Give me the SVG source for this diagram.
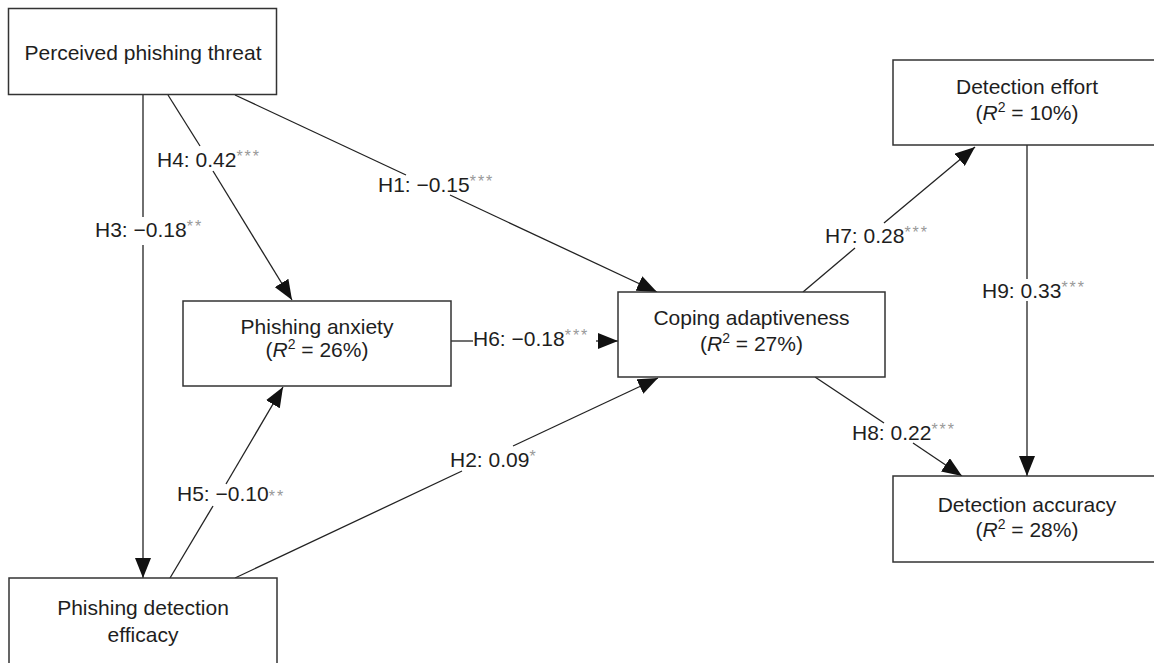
<svg xmlns="http://www.w3.org/2000/svg" width="1154" height="663" viewBox="0 0 1154 663">
<style>
text{font-family:"Liberation Sans",Arial,Helvetica,sans-serif;font-size:21px;fill:#1e1e1e}
.node rect{fill:#fff;stroke:#333;stroke-width:1.5}
.conn line{stroke:#222;stroke-width:1.3}
.sig{font-size:16px;fill:#999;letter-spacing:2px}
.sup{font-size:14px}
</style>
<defs>
<marker id="ah" viewBox="0 0 20 16" markerWidth="20" markerHeight="16" refX="20" refY="8" orient="auto" markerUnits="userSpaceOnUse">
<path d="M0,0 L20,8 L0,16 z" fill="#111"/>
</marker>
</defs>
<rect width="1154" height="663" fill="#fff"/>
<g id="connectors" class="conn">
<line x1="143" y1="95" x2="143" y2="217"/>
<line x1="143" y1="245" x2="143" y2="578" marker-end="url(#ah)"/>
<line x1="168" y1="95" x2="200" y2="146"/>
<line x1="213" y1="171" x2="292" y2="300" marker-end="url(#ah)"/>
<line x1="235" y1="95" x2="406" y2="175"/>
<line x1="450" y1="195" x2="657" y2="292" marker-end="url(#ah)"/>
<line x1="235" y1="578" x2="462" y2="471"/>
<line x1="513" y1="446" x2="658" y2="378" marker-end="url(#ah)"/>
<line x1="170" y1="578" x2="213" y2="506"/>
<line x1="226" y1="484" x2="283" y2="387" marker-end="url(#ah)"/>
<line x1="451" y1="341" x2="473" y2="341"/>
<line x1="596" y1="341" x2="618" y2="341" marker-end="url(#ah)"/>
<line x1="803" y1="292" x2="855" y2="248"/>
<line x1="884" y1="223" x2="975" y2="147" marker-end="url(#ah)"/>
<line x1="815" y1="377" x2="884" y2="423"/>
<line x1="913" y1="443" x2="962" y2="476" marker-end="url(#ah)"/>
<line x1="1027" y1="145" x2="1027" y2="279"/>
<line x1="1027" y1="301" x2="1027" y2="476" marker-end="url(#ah)"/>
<text x="95" y="237">H3: −0.18<tspan class="sig" dy="-5">**</tspan></text>
<text x="157" y="167">H4: 0.42<tspan class="sig" dy="-5">***</tspan></text>
<text x="378" y="192">H1: −0.15<tspan class="sig" dy="-5">***</tspan></text>
<text x="450" y="467">H2: 0.09<tspan class="sig" dy="-5">*</tspan></text>
<text x="177" y="501">H5: −0.10<tspan class="sig" dy="1">**</tspan></text>
<text x="473" y="346">H6: −0.18<tspan class="sig" dy="-5">***</tspan></text>
<text x="825" y="243">H7: 0.28<tspan class="sig" dy="-5">***</tspan></text>
<text x="852" y="440">H8: 0.22<tspan class="sig" dy="-5">***</tspan></text>
<text x="982" y="298">H9: 0.33<tspan class="sig" dy="-5">***</tspan></text>
</g>
<g id="perceived-threat" class="node">
<rect x="8.5" y="8.5" width="268" height="86"/>
<text x="143" y="60" text-anchor="middle">Perceived phishing threat</text>
</g>
<g id="anxiety" class="node">
<rect x="183" y="301" width="268" height="85"/>
<text x="317" y="334" text-anchor="middle">Phishing anxiety</text>
<text x="317" y="357" text-anchor="middle">(<tspan font-style="italic">R</tspan><tspan class="sup" dy="-8">2</tspan><tspan dy="8"> = 26%)</tspan></text>
</g>
<g id="coping" class="node">
<rect x="618" y="292" width="267" height="85"/>
<text x="751.5" y="325" text-anchor="middle">Coping adaptiveness</text>
<text x="751.5" y="351" text-anchor="middle">(<tspan font-style="italic">R</tspan><tspan class="sup" dy="-8">2</tspan><tspan dy="8"> = 27%)</tspan></text>
</g>
<g id="efficacy" class="node">
<rect x="9" y="578" width="268" height="110"/>
<text x="143" y="615" text-anchor="middle">Phishing detection</text>
<text x="143" y="642" text-anchor="middle">efficacy</text>
</g>
<g id="effort" class="node">
<rect x="893" y="60" width="268" height="85"/>
<text x="1027" y="94" text-anchor="middle">Detection effort</text>
<text x="1027" y="120" text-anchor="middle">(<tspan font-style="italic">R</tspan><tspan class="sup" dy="-8">2</tspan><tspan dy="8"> = 10%)</tspan></text>
</g>
<g id="accuracy" class="node">
<rect x="893" y="476" width="268" height="86"/>
<text x="1027" y="512" text-anchor="middle">Detection accuracy</text>
<text x="1027" y="537" text-anchor="middle">(<tspan font-style="italic">R</tspan><tspan class="sup" dy="-8">2</tspan><tspan dy="8"> = 28%)</tspan></text>
</g>
</svg>
